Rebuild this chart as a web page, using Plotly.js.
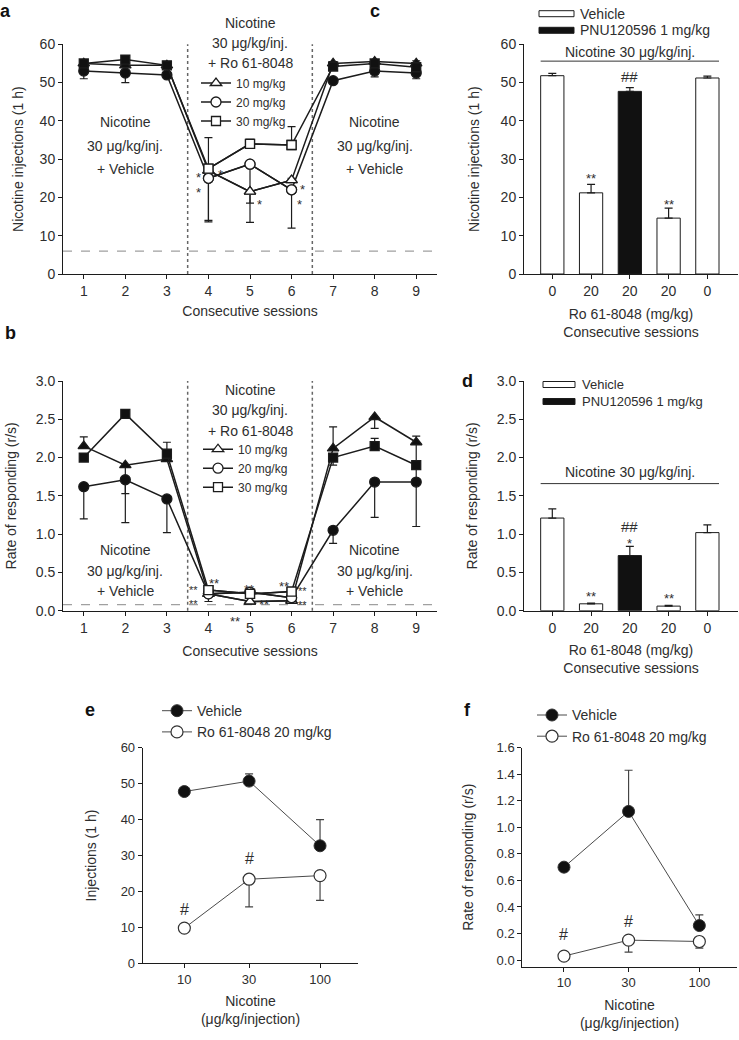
<!DOCTYPE html>
<html><head><meta charset="utf-8">
<script src="https://cdn.plot.ly/plotly-3.0.1.min.js"></script>
<style>body{margin:0;background:#fff}#chart{width:739px;height:1040px}</style>
</head><body><div id="chart"></div>
<script>
// ---------------- data ----------------
const sessions=[1,2,3,4,5,6,7,8,9];
const roPhase=[0,0,0,1,1,1,0,0,0]; // 1 = Ro 61-8048 sessions (open symbols)
const doseNames=['10 mg/kg','20 mg/kg','30 mg/kg'];
// panel a : nicotine injections (1 h)
const aTri=[55,54.5,54.5,27,21.5,24.5,55,55.5,55];
const aTriUp=[1,0.6,0.5,0,0,0.5,0.5,0.5,0.7];
const aTriDn=[0,0,0,13,8,0,0,0,0];
const aCir=[53,52.5,52,25,28.7,22,50.5,53,52.5];
const aCirUp=[0,0,0,10.6,0,0,0,0,0];
const aCirDn=[2,2.5,0.5,11.4,10.2,10,0.5,1.5,1.5];
const aSq=[55,56,54.5,27.5,34,33.7,54.2,55,54];
const aSqUp=[0.5,0.5,0.5,0.5,1.2,4.8,0.5,0.5,0.5];
const aSqDn=[0,0,0,0,0,0,0,0,0];
// panel b : rate of responding (r/s)
const bTri=[2.15,1.9,1.98,0.22,0.12,0.13,2.12,2.53,2.2];
const bTriUp=[0.12,0,0,0,0,0,0.28,0,0.08];
const bTriDn=[0,0.37,0,0.1,0,0,0,0.15,0.55];
const bCir=[1.62,1.71,1.46,0.22,0.24,0.17,1.05,1.68,1.68];
const bCirUp=[0,0,0,0,0,0,0,0,0];
const bCirDn=[0.42,0.56,0.44,0,0,0,0.17,0.46,0.58];
const bSq=[2.0,2.57,2.05,0.27,0.22,0.25,2.0,2.15,1.9];
const bSqUp=[0,0.05,0.15,0,0,0,0,0.1,0];
const bSqDn=[0,0,0,0,0,0,0.1,0,0];
// panels c, d : bars
const cLabels=['0','20','20','20','0'];
const cGroup=['Vehicle','Vehicle','PNU120596 1 mg/kg','Vehicle','Vehicle'];
const cVals=[51.8,21.2,47.7,14.6,51.2];
const cErr=[0.6,2.2,1.0,2.6,0.5];
const dVals=[1.21,0.09,0.72,0.06,1.02];
const dErr=[0.12,0.01,0.12,0.01,0.1];
// panels e, f : dose response
const doses=[10,30,100];
const eVeh=[47.8,50.7,32.7];
const eVehUp=[0,2.0,7.3];
const eRo=[9.8,23.4,24.4];
const eRoDn=[0,7.7,6.9];
const fVeh=[0.70,1.12,0.26];
const fVehUp=[0,0.31,0.08];
const fRo=[0.03,0.15,0.14];
const fRoDn=[0,0.09,0.05];

// ---------------- style ----------------
const F='Liberation Sans, Arial, Helvetica, sans-serif';
const INK='#1c1c1c', TXT='#2e2e2e';
const W=739,H=1040;
const px=v=>v/W, py=v=>1-v/H;
const zeros=n=>new Array(n).fill(0);
function eb(up,dn,col,w){return {type:'data',symmetric:false,array:up,arrayminus:dn,color:col||INK,thickness:1.2,width:w||4};}
const baseAxis={showline:true,linecolor:INK,linewidth:1,ticks:'outside',ticklen:4,tickwidth:1,tickcolor:INK,
  showgrid:false,zeroline:false,tickfont:{family:F,size:14,color:TXT},fixedrange:true};
function ax(extra){return Object.assign({},baseAxis,extra);}
function ttl(text,standoff,size){return {text:text,font:{family:F,size:size||14,color:TXT},standoff:standoff};}

const traces=[];
const syms=['triangle-up','circle','square'];
const sizes=[10,10,9];
function sessionPanel(sets,xa,ya,legendId){
  sets.forEach((s,i)=>{
    traces.push({x:sessions,y:s.y,xaxis:xa,yaxis:ya,mode:'lines+markers',showlegend:false,hoverinfo:'skip',
      line:{color:INK,width:1.5},
      marker:{symbol:syms[i],size:sizes[i],color:roPhase.map(p=>p?'#ffffff':'#111111'),line:{color:INK,width:1.3}},
      error_y:eb(s.up,s.dn)});
  });
  sets.forEach((s,i)=>{
    traces.push({x:sessions.filter((_,k)=>roPhase[k]),y:s.y.filter((_,k)=>roPhase[k]),xaxis:xa,yaxis:ya,
      mode:'lines+markers',name:doseNames[i],legend:legendId,hoverinfo:'skip',
      line:{color:INK,width:1.5},
      marker:{symbol:syms[i],size:sizes[i],color:'#ffffff',line:{color:INK,width:1.3}}});
  });
}
sessionPanel([{y:aTri,up:aTriUp,dn:aTriDn},{y:aCir,up:aCirUp,dn:aCirDn},{y:aSq,up:aSqUp,dn:aSqDn}],'x','y','legend');
sessionPanel([{y:bTri,up:bTriUp,dn:bTriDn},{y:bCir,up:bCirUp,dn:bCirDn},{y:bSq,up:bSqUp,dn:bSqDn}],'x2','y2','legend2');

const catIdx=cLabels.map((_,i)=>i);
const barCol=cGroup.map(g=>g==='Vehicle'?'#ffffff':'#111111');
traces.push({type:'bar',x:catIdx,y:cVals,width:0.6,xaxis:'x3',yaxis:'y3',showlegend:false,hoverinfo:'skip',
  marker:{color:barCol,line:{color:INK,width:1}},error_y:eb(cErr,zeros(5))});
traces.push({type:'bar',x:catIdx,y:dVals,width:0.6,xaxis:'x4',yaxis:'y4',showlegend:false,hoverinfo:'skip',
  marker:{color:barCol,line:{color:INK,width:1}},error_y:eb(dErr,zeros(5))});

function dosePanel(veh,vehUp,ro,roDn,xa,ya,lg){
  traces.push({x:doses,y:veh,xaxis:xa,yaxis:ya,mode:'lines+markers',name:'Vehicle',legend:lg,hoverinfo:'skip',
    line:{color:'#4a4a4a',width:1},marker:{symbol:'circle',size:12,color:'#111',line:{color:'#333',width:1}},
    error_y:eb(vehUp,zeros(3),'#444')});
  traces.push({x:doses,y:ro,xaxis:xa,yaxis:ya,mode:'lines+markers',name:'Ro 61-8048 20 mg/kg',legend:lg,hoverinfo:'skip',
    line:{color:'#4a4a4a',width:1},marker:{symbol:'circle',size:12,color:'#fff',line:{color:'#333',width:1.2}},
    error_y:eb(zeros(3),roDn,'#444')});
}
dosePanel(eVeh,eVehUp,eRo,eRoDn,'x5','y5','legend3');
dosePanel(fVeh,fVehUp,fRo,fRoDn,'x6','y6','legend4');

// ---------------- layout ----------------
const dA=[px(63),px(437)], dC=[px(524),px(738)];
const lgBase={xanchor:'left',yanchor:'top',bgcolor:'rgba(0,0,0,0)',borderwidth:0};
const layout={
  width:W,height:H,margin:{l:0,r:0,t:0,b:0},paper_bgcolor:'#fff',plot_bgcolor:'rgba(0,0,0,0)',
  font:{family:F,size:14,color:TXT},showlegend:true,bargap:0,
  xaxis:ax({domain:dA,range:[0.5,9.5],anchor:'y',tickvals:sessions,title:ttl('Consecutive sessions',8)}),
  yaxis:ax({domain:[py(274),py(44.3)],range:[0,60],dtick:10,anchor:'x',title:ttl('Nicotine injections (1 h)',12)}),
  xaxis2:ax({domain:dA,range:[0.5,9.5],anchor:'y2',tickvals:sessions,title:ttl('Consecutive sessions',11)}),
  yaxis2:ax({domain:[py(610.7),py(381)],range:[0,3],dtick:0.5,tickformat:'.1f',anchor:'x2',title:ttl('Rate of responding (r/s)',15)}),
  xaxis3:ax({domain:dC,range:[-0.73,4.79],anchor:'y3',tickvals:catIdx,ticktext:cLabels,title:ttl('Ro 61-8048 (mg/kg)<br>Consecutive sessions',11)}),
  yaxis3:ax({domain:[py(274),py(44.3)],range:[0,60],dtick:10,anchor:'x3',title:ttl('Nicotine injections (1 h)',17)}),
  xaxis4:ax({domain:dC,range:[-0.73,4.79],anchor:'y4',tickvals:catIdx,ticktext:cLabels,title:ttl('Ro 61-8048 (mg/kg)<br>Consecutive sessions',10)}),
  yaxis4:ax({domain:[py(610.7),py(381)],range:[0,3],dtick:0.5,tickformat:'.1f',anchor:'x4',title:ttl('Rate of responding (r/s)',15)}),
  xaxis5:ax({domain:[px(142.7),px(358.3)],type:'log',range:[0.693,2.282],anchor:'y5',tickvals:doses,ticktext:doses.map(String),
    tickfont:{family:F,size:13,color:TXT},title:ttl('Nicotine<br>(μg/kg/injection)',10)}),
  yaxis5:ax({domain:[py(963.3),py(747.7)],range:[0,60],dtick:10,anchor:'x5',tickfont:{family:F,size:13,color:TXT},title:ttl('Injections (1 h)',20)}),
  xaxis6:ax({domain:[px(522.3),px(736.7)],type:'log',range:[0.692,2.276],anchor:'y6',tickvals:doses,ticktext:doses.map(String),
    tickfont:{family:F,size:13,color:TXT},title:ttl('Nicotine<br>(μg/kg/injection)',10)}),
  yaxis6:ax({domain:[py(966.7),py(747.7)],range:[-0.05,1.6],tick0:0,dtick:0.2,tickformat:'.1f',anchor:'x6',tickfont:{family:F,size:13,color:TXT},title:ttl('Rate of responding (r/s)',19)}),
  legend:Object.assign({x:px(196),y:py(68.5),font:{family:F,size:12,color:TXT}},lgBase),
  legend2:Object.assign({x:px(198),y:py(434.7),font:{family:F,size:12,color:TXT}},lgBase),
  legend3:Object.assign({x:px(157),y:py(695.1),font:{family:F,size:14,color:TXT}},lgBase),
  legend4:Object.assign({x:px(532),y:py(699.4),font:{family:F,size:14,color:TXT}},lgBase),
  shapes:[],annotations:[]
};
const S=layout.shapes, A=layout.annotations;
// phase separators and reference lines
[['x','y'],['x2','y2']].forEach(([xa,ya])=>{
  [3.5,6.5].forEach(v=>S.push({type:'line',layer:'below',xref:xa,yref:ya+' domain',x0:v,x1:v,y0:0,y1:1,line:{color:'#666',width:1.5,dash:'dot'}}));
});
S.push({type:'line',layer:'below',xref:'x domain',yref:'y',x0:0,x1:1,y0:6,y1:6,line:{color:'#a0a0a0',width:1.3,dash:'dash'}});
S.push({type:'line',layer:'below',xref:'x2 domain',yref:'y2',x0:0,x1:1,y0:0.08,y1:0.08,line:{color:'#a0a0a0',width:1.3,dash:'dash'}});
S.push({type:'line',xref:'x3',yref:'y3',x0:-0.3,x1:4.3,y0:55.6,y1:55.6,line:{color:'#333',width:1}});
S.push({type:'line',xref:'x4',yref:'y4',x0:-0.3,x1:4.3,y0:1.66,y1:1.66,line:{color:'#333',width:1}});
// bar legends (c, d)
function barKey(x0,x1,yc,fill){S.push({type:'rect',xref:'paper',yref:'paper',x0:px(x0),x1:px(x1),y0:py(yc+3),y1:py(yc-3),fillcolor:fill,line:{color:INK,width:1}});}
barKey(539,574,13.7,'#fff'); barKey(539,574,30.3,'#111');
barKey(543,575,384.5,'#fff'); barKey(543,575,401.5,'#111');
function ptxt(x,y,t,size,opts){A.push(Object.assign({xref:'paper',yref:'paper',x:px(x),y:py(y),text:t,showarrow:false,xanchor:'left',yanchor:'middle',font:{family:F,size:size||14,color:TXT}},opts||{}));}
ptxt(578,13.7,'Vehicle'); ptxt(578,30.3,'PNU120596 1 mg/kg');
ptxt(580,393,'Vehicle<br>PNU120596 1 mg/kg',13,{align:'left'});
// panel letters
[['a',5,0,'top'],['b',10,333,'middle'],['c',375,0,'top'],['d',467,381,'middle'],['e',90,710,'middle'],['f',467,710,'middle']].forEach(([t,x,y,ya])=>
  ptxt(x,y,'<b>'+t+'</b>',18,{xanchor:'center',yanchor:ya,borderpad:0,font:{family:F,size:18,color:'#111'}}));
// data-space text
function dtxt(xa,ya,x,y,t,size,ys){A.push({xref:xa,yref:ya,x:x,y:y,text:t,showarrow:false,xanchor:'center',yanchor:'middle',yshift:ys||0,font:{family:F,size:size||14,color:TXT}});}
// y in 'domain' units (fraction of the axis range) for texts lying outside the plotted range
dtxt('x','y domain',5,65.5/60,'Nicotine'); dtxt('x','y domain',5,60.3/60,'30 μg/kg/inj.'); dtxt('x','y',5,55.1,'+ Ro 61-8048');
[2,8].forEach(x=>{dtxt('x','y',x,39.7,'Nicotine');dtxt('x','y',x,33.4,'30 μg/kg/inj.');dtxt('x','y',x,27.4,'+ Vehicle');});
dtxt('x2','y2',5,2.88,'Nicotine'); dtxt('x2','y2',5,2.62,'30 μg/kg/inj.'); dtxt('x2','y2',5,2.35,'+ Ro 61-8048');
[2,8].forEach(x=>{dtxt('x2','y2',x,0.79,'Nicotine');dtxt('x2','y2',x,0.52,'30 μg/kg/inj.');dtxt('x2','y2',x,0.26,'+ Vehicle');});
[[3.76,26.0],[3.76,22.2],[4.29,26.7],[5.24,19.0],[6.26,22.8],[6.2,19.0]].forEach(([x,y])=>dtxt('x','y',x,y,'*',13,-3));
[[4.125,0.39],[4.97,0.32],[5.33,0.12],[5.81,0.35]].forEach(([x,y])=>dtxt('x2','y2',x,y,'**',13,-3));
dtxt('x2','y2 domain',4.65,-0.10/3,'**',13,-3);
dtxt('x2','y2',3.65,0.205,'**<br>**',11,-2); dtxt('x2','y2',6.26,0.195,'**<br>**',11,-2);
dtxt('x3','y3',2,58,'Nicotine 30 μg/kg/inj.');
dtxt('x3','y3',1,25.8,'**',13,-3); dtxt('x3','y3',2,51.7,'##',15); dtxt('x3','y3',3,19.0,'**',13,-3);
dtxt('x4','y4',2,1.81,'Nicotine 30 μg/kg/inj.');
dtxt('x4','y4',1,0.22,'**',13,-3); dtxt('x4','y4',2,1.10,'##',15); dtxt('x4','y4',2,0.92,'*',13,-3); dtxt('x4','y4',3,0.20,'**',13,-3);
dtxt('x5','y5',Math.log10(10),15.0,'#',16); dtxt('x5','y5',Math.log10(30),29.2,'#',16);
dtxt('x6','y6',Math.log10(10),0.19,'#',16); dtxt('x6','y6',Math.log10(30),0.29,'#',16);

Plotly.newPlot('chart',traces,layout,{displayModeBar:false,staticPlot:true});
</script></body></html>
